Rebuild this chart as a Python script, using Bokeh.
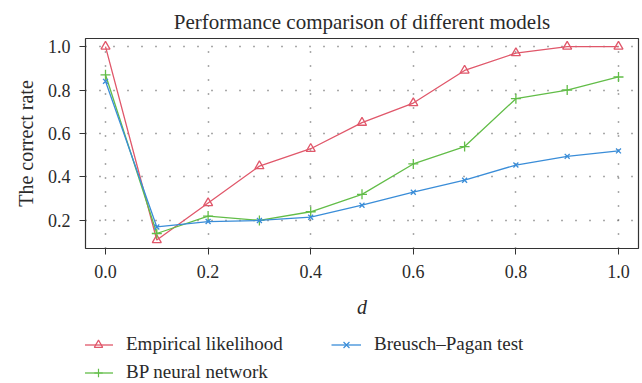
from bokeh.plotting import figure
from bokeh.layouts import column
from bokeh.models import Legend, LegendItem, Range1d, FixedTicker
from bokeh.embed import file_html
from bokeh.resources import INLINE

d = [0.0, 0.1, 0.2, 0.3, 0.4, 0.5, 0.6, 0.7, 0.8, 0.9, 1.0]
empirical = [1.00, 0.11, 0.28, 0.45, 0.53, 0.65, 0.74, 0.89, 0.97, 1.00, 1.00]
bp_network = [0.87, 0.14, 0.22, 0.20, 0.24, 0.32, 0.46, 0.54, 0.76, 0.80, 0.86]
breusch_pagan = [0.84, 0.17, 0.195, 0.20, 0.215, 0.27, 0.33, 0.385, 0.455, 0.495, 0.52]

series_names = ["Empirical likelihood", "BP neural network", "Breusch\u2013Pagan test"]

x_ticks = [0.0, 0.2, 0.4, 0.6, 0.8, 1.0]
y_ticks = [0.2, 0.4, 0.6, 0.8, 1.0]
tick_text = {0.0: "0.0", 0.2: "0.2", 0.4: "0.4", 0.6: "0.6", 0.8: "0.8", 1.0: "1.0"}

RED = "#e0576a"
GREEN = "#62bd48"
BLUE = "#3a8dd8"
FONT = "Liberation Serif"
TEXT = "#2a2a2a"

styles = [
    dict(color=RED, marker="triangle", size=9),
    dict(color=GREEN, marker="cross", size=10),
    dict(color=BLUE, marker="x", size=7),
]
all_series = [empirical, bp_network, breusch_pagan]

# --- main chart -------------------------------------------------------------
p = figure(width=642, height=322, output_backend="svg", toolbar_location=None,
           x_range=Range1d(-0.039, 1.039), y_range=Range1d(0.071, 1.037),
           min_border_left=85, min_border_right=4, min_border_top=38,
           min_border_bottom=74)

p.title.text = "Performance comparison of different models"
p.title.align = "center"
p.title.text_font = FONT
p.title.text_font_size = "21px"
p.title.text_font_style = "normal"
p.title.text_color = TEXT

p.outline_line_color = "#333333"
p.outline_line_width = 1.2
p.background_fill_color = "white"
p.border_fill_color = "white"

for ax in (p.xaxis[0], p.yaxis[0]):
    ax.axis_line_color = None
    ax.major_tick_line_color = "#333333"
    ax.major_tick_in = 0
    ax.major_tick_out = 6
    ax.minor_tick_line_color = None
    ax.major_label_text_font = FONT
    ax.major_label_text_font_size = "18px"
    ax.major_label_text_color = TEXT
    ax.axis_label_text_font = FONT
    ax.axis_label_text_color = TEXT
    ax.axis_label_text_font_size = "20px"

p.xaxis.ticker = FixedTicker(ticks=x_ticks)
p.yaxis.ticker = FixedTicker(ticks=y_ticks)
p.xaxis.major_label_overrides = tick_text
p.yaxis.major_label_overrides = tick_text
p.xaxis.major_label_standoff = 10
p.yaxis.major_label_standoff = 9
p.xaxis.axis_label = "d"
p.xaxis.axis_label_text_font_style = "italic"
p.xaxis.axis_label_standoff = 15
p.yaxis.axis_label = "The correct rate"
p.yaxis.axis_label_text_font_style = "normal"
p.yaxis.axis_label_standoff = 8

p.grid.grid_line_color = "#555555"
p.grid.grid_line_dash = "1 13"
p.grid.grid_line_width = 1.5

for ys, st in zip(all_series, styles):
    p.line(d, ys, line_color=st["color"], line_width=1.3)
    p.scatter(d, ys, marker=st["marker"], size=st["size"], fill_color=None,
              line_color=st["color"], line_width=1.3)

# --- legend strip below the chart -------------------------------------------
# The series are plotted again here only to feed the legend; the view range
# keeps them out of sight so just the legend keys show.
lg = figure(width=642, height=61, output_backend="svg", toolbar_location=None,
            x_range=Range1d(10, 11), y_range=Range1d(10, 11),
            x_axis_location=None, y_axis_location=None,
            min_border=0, outline_line_color=None)
lg.grid.visible = False

items = []
for name, ys, st in zip(series_names, all_series, styles):
    ln = lg.line(d, ys, line_color=st["color"], line_width=1.3)
    mk = lg.scatter(d, ys, marker=st["marker"], size=st["size"] - 3,
                    fill_color=None, line_color=st["color"], line_width=1.2)
    items.append(LegendItem(label=name, renderers=[ln, mk]))

legend = Legend(items=items, nrows=2, orientation="vertical")
legend.label_text_font = FONT
legend.label_text_font_size = "19px"
legend.label_text_color = TEXT
legend.border_line_color = None
legend.background_fill_alpha = 0
legend.glyph_width = 30
legend.glyph_height = 21
legend.label_height = 21
legend.label_width = 199
legend.label_standoff = 13
legend.spacing = 6
legend.padding = 0
legend.margin = 0
# the strip's frame is aligned with the chart's frame (left edge at 85px)
legend.location = (-2, 0)
lg.add_layout(legend)

open("out.html", "w").write(file_html(column(p, lg), INLINE))
